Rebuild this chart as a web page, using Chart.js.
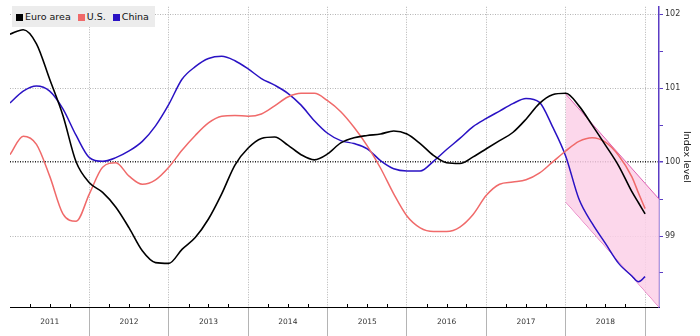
<!DOCTYPE html>
<html>
<head>
<meta charset="utf-8">
<script src="https://cdn.jsdelivr.net/npm/chart.js"></script>
<style>
  body { margin: 0; background: #fff; }
  #wrap { position: relative; width: 700px; height: 336px; }
  #legend {
    position: absolute; left: 12px; top: 6px; height: 21px; padding: 0 6px 0 4px;
    background: #ececec; font: 9.5px "DejaVu Sans", sans-serif; color: #111;
    display: flex; align-items: center; gap: 7px;
  }
  #legend span.sw { display: inline-block; width: 7px; height: 7px; margin-right: 2px; vertical-align: -1px; }
</style>
</head>
<body>
<div id="wrap">
  <canvas id="chart1" width="700" height="336"></canvas>
  <div id="legend">
    <div><span class="sw" style="background:#000"></span>Euro area</div>
    <div><span class="sw" style="background:#f06a6a"></span>U.S.</div>
    <div><span class="sw" style="background:#2a12c4"></span>China</div>
  </div>
</div>
<script>
// months since Jan 2011
var months = [0,2,4,6,8,10,12,14,16,18,20,22,24,26,28,30,32,34,36,38,40,42,44,46,48,
              50,52,54,56,58,60,62,64,66,68,70,72,74,76,78,80,82,84,86,88,90,92,94,95,96];

var euroArea = [101.73,101.79,101.60,101.12,100.63,100.00,99.72,99.59,99.39,99.11,98.80,98.64,98.63,
                98.82,98.98,99.23,99.57,99.96,100.19,100.32,100.34,100.23,100.10,100.03,100.11,
                100.26,100.33,100.36,100.38,100.42,100.38,100.25,100.09,99.99,99.98,100.07,100.18,
                100.29,100.40,100.58,100.79,100.91,100.93,100.76,100.50,100.23,99.95,99.60,99.45,99.30];

var us = [100.10,100.35,100.24,99.81,99.30,99.20,99.57,99.93,99.99,99.81,99.70,99.76,99.93,
          100.16,100.36,100.53,100.62,100.63,100.62,100.65,100.76,100.88,100.93,100.93,100.83,
          100.68,100.47,100.22,99.92,99.57,99.27,99.11,99.06,99.06,99.12,99.29,99.55,
          99.70,99.73,99.76,99.85,100.00,100.15,100.28,100.33,100.27,100.09,99.80,99.58,99.37];

var china = [100.80,100.96,101.03,100.96,100.72,100.36,100.06,100.01,100.06,100.15,100.28,100.49,100.78,
             101.12,101.29,101.40,101.43,101.37,101.26,101.13,101.04,100.93,100.77,100.56,100.39,
             100.29,100.25,100.18,100.02,99.91,99.88,99.88,100.01,100.17,100.32,100.48,100.59,
             100.69,100.79,100.86,100.81,100.48,100.08,99.50,99.17,98.90,98.63,98.46,98.38,98.45];

// forecast band, start of 2018 to the right edge
var coneMonths = [84, 98.1];
var coneUpper = [100.92, 99.50];
var coneLower = [99.46, 98.04];

var yearLabels = ['2011','2012','2013','2014','2015','2016','2017','2018'];
var yTicks = [98.5, 99, 99.5, 100, 100.5, 101, 101.5, 102];

function pts(xs, ys) {
  return xs.map(function (x, i) { return {x: x, y: ys[i]}; });
}

var quarterTicks = [];
for (var q = 0; q <= 96; q += 3) quarterTicks.push(q);

// small quarter marks sitting on top of the x axis line
var quarterMarks = {
  id: 'quarterMarks',
  afterDraw: function (chart) {
    var xs = chart.scales.x, ctx = chart.ctx, y = chart.chartArea.bottom;
    ctx.save();
    ctx.strokeStyle = '#000';
    ctx.lineWidth = 1;
    quarterTicks.forEach(function (m) {
      if (m % 12 === 0) return;
      var px = Math.round(xs.getPixelForValue(m)) + 0.5;
      ctx.beginPath();
      ctx.moveTo(px, y - 3);
      ctx.lineTo(px, y);
      ctx.stroke();
    });
    ctx.restore();
  }
};

var ctx1 = document.getElementById('chart1').getContext('2d');
var chart1 = new Chart(ctx1, {
  type: 'line',
  data: {
    datasets: [
      { label: 'Euro area', data: pts(months, euroArea), borderColor: '#000000', borderWidth: 1.6,
        pointRadius: 0, cubicInterpolationMode: 'monotone', fill: false, order: 0 },
      { label: 'U.S.', data: pts(months, us), borderColor: '#f06a6a', borderWidth: 1.5,
        pointRadius: 0, cubicInterpolationMode: 'monotone', fill: false, order: 1 },
      { label: 'China', data: pts(months, china), borderColor: '#2a12c4', borderWidth: 1.5,
        pointRadius: 0, cubicInterpolationMode: 'monotone', fill: false, order: 2 },
      { label: 'upper', data: pts(coneMonths, coneUpper), borderColor: '#e060b4', borderWidth: 1,
        pointRadius: 0, tension: 0, fill: '+1', backgroundColor: 'rgba(252,208,232,0.85)', order: 5 },
      { label: 'lower', data: pts(coneMonths, coneLower), borderColor: '#e060b4', borderWidth: 1,
        pointRadius: 0, tension: 0, fill: false, order: 6 }
    ]
  },
  options: {
    responsive: false,
    animation: false,
    devicePixelRatio: 1,
    layout: { padding: { left: 10, top: 6, right: 0, bottom: 0 } },
    plugins: { legend: { display: false }, tooltip: { enabled: false } },
    scales: {
      x: {
        type: 'linear',
        min: 0,
        max: 98.1,
        afterBuildTicks: function (scale) {
          scale.ticks = quarterTicks.map(function (v) { return {value: v}; });
        },
        afterFit: function (scale) { scale.height = 29; },
        ticks: {
          autoSkip: false,
          maxRotation: 0,
          padding: -18,
          color: '#333',
          font: { family: 'DejaVu Sans', size: 7.5 },
          callback: function (v) {
            return v % 12 === 6 ? yearLabels[(v - 6) / 12] : '';
          }
        },
        grid: {
          tickLength: 29,
          color: function (c) {
            var v = c.tick ? c.tick.value : -1;
            return (v > 0 && v % 12 === 0) ? '#b4b4b4' : 'rgba(0,0,0,0)';
          },
          lineWidth: 1
        },
        border: { display: true, color: '#000', width: 1, dash: [1, 1.5] }
      },
      y: {
        position: 'right',
        min: 98.04,
        max: 102.1,
        afterBuildTicks: function (scale) {
          scale.ticks = yTicks.map(function (v) { return {value: v}; });
        },
        afterFit: function (scale) { scale.width = 41; },
        ticks: {
          padding: 2,
          color: '#333',
          font: { family: 'DejaVu Sans', size: 8 },
          callback: function (v) { return v % 1 === 0 ? String(v) : ''; }
        },
        grid: {
          tickLength: 4,
          tickColor: '#5b3cc4',
          color: function (c) {
            var v = c.tick ? c.tick.value : 0;
            if (v === 100) return '#222';
            return v % 1 === 0 ? '#b4b4b4' : 'rgba(0,0,0,0)';
          },
          lineWidth: function (c) { return c.tick && c.tick.value === 100 ? 1.5 : 1; }
        },
        border: { display: true, color: '#5b3cc4', width: 1.5, dash: [1, 1.5] },
        title: {
          display: true,
          text: 'Index level',
          color: '#222',
          font: { family: 'DejaVu Sans', size: 9.5 },
          padding: { top: 8, bottom: 0 }
        }
      }
    }
  },
  plugins: [quarterMarks]
});
</script>
</body>
</html>
